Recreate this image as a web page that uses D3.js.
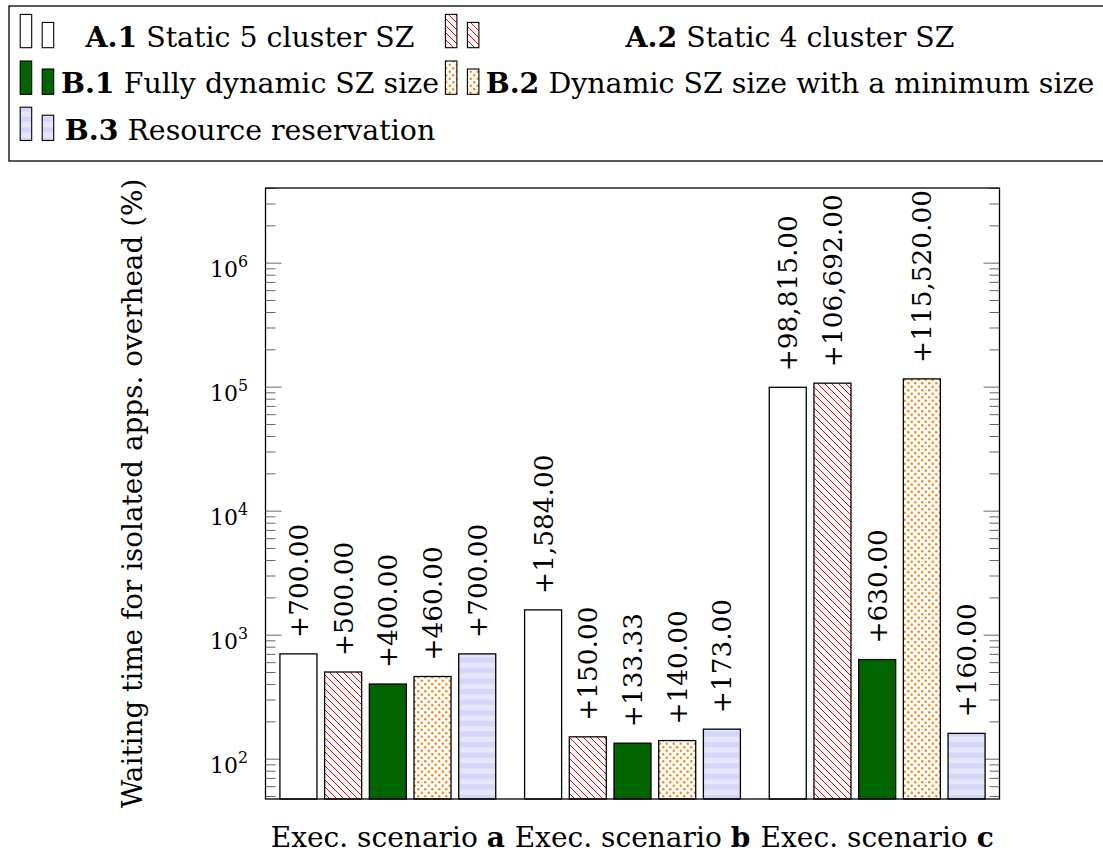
<!DOCTYPE html>
<html><head><meta charset="utf-8">
<script src="https://cdn.jsdelivr.net/npm/d3@7"></script>
<style>
body{margin:0;background:#fff}
svg{display:block}
text{font-family:"DejaVu Serif","Liberation Serif",serif;fill:#000}
</style>
</head><body><svg id="c" width="1103" height="855"></svg>
<script>
// ---- data ----
const categories = ["a", "b", "c"];
const seriesNames = ["A.1", "A.2", "B.1", "B.2", "B.3"];
const seriesLabels = ["Static 5 cluster SZ", "Static 4 cluster SZ", "Fully dynamic SZ size",
  "Dynamic SZ size with a minimum size", "Resource reservation"];
const valuesA1 = [700, 1584, 98815];
const valuesA2 = [500, 150, 106692];
const valuesB1 = [400, 133.33, 630];
const valuesB2 = [460, 140, 115520];
const valuesB3 = [700, 173, 160];
const yTickExponents = [2, 3, 4, 5, 6];
const xLabelPrefix = "Exec. scenario ";
const yTitle = "Waiting time for isolated apps. overhead (%)";

const seriesValues = [valuesA1, valuesA2, valuesB1, valuesB2, valuesB3];
const seriesFill = ["#ffffff", "url(#nwl)", "#006400", "url(#dots)", "url(#hstr)"];

// ---- layout ----
const L = 265.5, R = 999.5, T = 188, B = 799;
const svg = d3.select("#c");

// font size that makes a sample string a given width
function fitSize(str, target, bold) {
  const t = svg.append("text").attr("font-size", 100).attr("font-weight", bold ? "bold" : null).text(str);
  const w = t.node().getComputedTextLength();
  t.remove();
  return 100 * target / w;
}
const fsLegend = fitSize("A.1 Static 5 cluster SZ", 325);
const fsX = fitSize("Exec. scenario a", 233);
const fsTitle = fitSize(yTitle, 630);
const fsVal = fitSize("+106,692.00", 173);
const fsTick = fitSize("10", 28);

const defs = svg.append("defs");
const p1 = defs.append("pattern").attr("id", "nwl").attr("patternUnits", "userSpaceOnUse")
  .attr("width", 7).attr("height", 7);
p1.append("rect").attr("width", 7).attr("height", 7).attr("fill", "#fff");
p1.append("path").attr("d", "M0,0L7,7M-1,6L1,8M6,-1L8,1").attr("stroke", "#ff0000").attr("stroke-width", 1);
const p2 = defs.append("pattern").attr("id", "dots").attr("patternUnits", "userSpaceOnUse")
  .attr("width", 7).attr("height", 7);
p2.append("rect").attr("width", 7).attr("height", 7).attr("fill", "#fff");
p2.append("circle").attr("cx", 1.75).attr("cy", 1.75).attr("r", 1.2).attr("fill", "#ff8000");
p2.append("circle").attr("cx", 5.25).attr("cy", 5.25).attr("r", 1.2).attr("fill", "#ff8000");
const p3 = defs.append("pattern").attr("id", "hstr").attr("patternUnits", "userSpaceOnUse")
  .attr("width", 10).attr("height", 10.6);
p3.append("rect").attr("width", 10).attr("height", 10.6).attr("fill", "#e6e6fa");
p3.append("rect").attr("width", 10).attr("height", 5.3).attr("fill", "#d6d6f8");

const x = d3.scaleBand().domain(categories).range([L, R]).padding(0);
const inner = d3.scaleBand().domain(seriesNames).range([-111.75, 111.75])
  .paddingInner(0.172).paddingOuter(0.086);
const y = d3.scaleLog().domain([47.3, 4.0e6]).range([B, T]);

// minor ticks
const majors = yTickExponents.map(e => Math.pow(10, e));
const minors = [];
for (let e = 1; e <= 6; e++) for (let k = 2; k <= 9; k++) {
  const v = k * Math.pow(10, e);
  if (v >= y.domain()[0] && v <= y.domain()[1]) minors.push(v);
}

function styleAxis(g) {
  g.select(".domain").remove();
  g.selectAll(".tick line").attr("stroke", "#666").attr("stroke-width", 1);
}
svg.append("g").attr("transform", `translate(${L},0)`)
  .call(d3.axisLeft(y).tickValues(minors).tickSizeInner(-10).tickSizeOuter(0).tickFormat(""))
  .call(styleAxis);
svg.append("g").attr("transform", `translate(${R},0)`)
  .call(d3.axisRight(y).tickValues(minors).tickSizeInner(-10).tickSizeOuter(0).tickFormat(""))
  .call(styleAxis);
svg.append("g").attr("transform", `translate(${R},0)`)
  .call(d3.axisRight(y).tickValues(majors).tickSizeInner(-16).tickSizeOuter(0).tickFormat(""))
  .call(styleAxis);
const yAx = svg.append("g").attr("transform", `translate(${L},0)`)
  .call(d3.axisLeft(y).tickValues(majors).tickSizeInner(-16).tickSizeOuter(0).tickPadding(17.5))
  .call(styleAxis);
yAx.selectAll(".tick text").each(function (d) {
  const t = d3.select(this);
  t.text(null).attr("dy", null).attr("y", 13.5).attr("font-size", fsTick)
    .attr("font-family", '"DejaVu Serif",serif').attr("fill", "#000");
  t.append("tspan").text("10");
  t.append("tspan").attr("font-size", fsTick * 0.72).attr("dy", -10).text(Math.round(Math.log10(d)));
});

// bars
const fmt = d3.format(",.2f");
seriesNames.forEach((s, si) => {
  const g = svg.append("g");
  g.selectAll("rect").data(seriesValues[si]).join("rect")
    .attr("x", (d, i) => x(categories[i]) + x.bandwidth() / 2 + inner(s))
    .attr("width", inner.bandwidth())
    .attr("y", d => y(d))
    .attr("height", d => B - y(d))
    .attr("fill", seriesFill[si]).attr("stroke", "#000").attr("stroke-width", 1.3);
  g.selectAll("text").data(seriesValues[si]).join("text")
    .attr("transform", (d, i) => {
      const cx = x(categories[i]) + x.bandwidth() / 2 + inner(s) + inner.bandwidth() / 2;
      return `translate(${cx},${y(d) - 16}) rotate(-90)`;
    })
    .attr("dy", "0.36em").attr("font-size", fsVal).attr("text-anchor", "start")
    .text(d => "+" + fmt(d));
});

// frame
svg.append("rect").attr("x", L).attr("y", T).attr("width", R - L).attr("height", B - T)
  .attr("fill", "none").attr("stroke", "#000").attr("stroke-width", 1.3);

// x labels
categories.forEach(c => {
  const t = svg.append("text").attr("x", x(c) + x.bandwidth() / 2).attr("y", 847)
    .attr("text-anchor", "middle").attr("font-size", fsX);
  t.append("tspan").text(xLabelPrefix);
  t.append("tspan").attr("font-weight", "bold").text(c);
});

// y title
svg.append("text").attr("transform", `translate(142,${(T + B) / 2}) rotate(-90)`)
  .attr("text-anchor", "middle").attr("font-size", fsTitle).text(yTitle);

// legend
svg.append("rect").attr("x", 9).attr("y", 6).attr("width", 1110).attr("height", 155)
  .attr("fill", "#fff").attr("stroke", "#000").attr("stroke-width", 1.3);
const legRows = [47.7, 94.3, 140.5];
const legImgX = [20.2, 445.4];
const legTextX = [250, 790];
seriesNames.forEach((s, si) => {
  const r = Math.floor(si / 2), c = si % 2;
  const base = legRows[r];
  const g = svg.append("g");
  g.append("rect").attr("x", legImgX[c]).attr("y", base - 33.3).attr("width", 11.5).attr("height", 33.3)
    .attr("fill", seriesFill[si]).attr("stroke", "#000").attr("stroke-width", 1.1);
  g.append("rect").attr("x", legImgX[c] + 22).attr("y", base - 25.3).attr("width", 11.5).attr("height", 25.3)
    .attr("fill", seriesFill[si]).attr("stroke", "#000").attr("stroke-width", 1.1);
  const t = g.append("text").attr("x", legTextX[c]).attr("y", base - 1)
    .attr("text-anchor", "middle").attr("font-size", fsLegend);
  t.append("tspan").attr("font-weight", "bold").text(s);
  t.append("tspan").text(" " + seriesLabels[si]);
});
</script>
</body></html>
